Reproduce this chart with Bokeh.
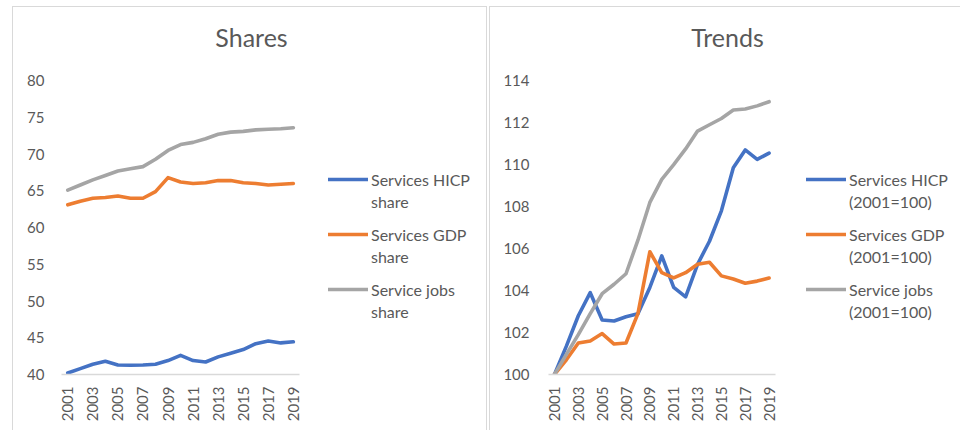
import math
from bokeh.plotting import figure
from bokeh.layouts import row
from bokeh.models import Legend, LegendItem, FixedTicker, Range1d, Label
from bokeh.embed import file_html
from bokeh.resources import INLINE

years = list(range(2001, 2020))

hicp_share = [40.2, 40.8, 41.4, 41.8, 41.3, 41.25, 41.3, 41.4, 41.9, 42.6, 41.9, 41.7,
              42.4, 42.9, 43.4, 44.2, 44.55, 44.3, 44.45]
gdp_share = [63.1, 63.6, 64.0, 64.1, 64.3, 64.0, 64.0, 64.9, 66.8, 66.2, 66.0, 66.1,
             66.4, 66.4, 66.1, 66.0, 65.8, 65.9, 66.0]
jobs_share = [65.1, 65.8, 66.5, 67.1, 67.7, 68.0, 68.3, 69.3, 70.5, 71.3, 71.6, 72.1,
              72.7, 73.0, 73.1, 73.3, 73.4, 73.45, 73.6]

hicp_trend = [100.0, 101.35, 102.8, 103.9, 102.6, 102.55, 102.75, 102.9, 104.15, 105.65,
              104.15, 103.7, 105.25, 106.35, 107.8, 109.85, 110.7, 110.25, 110.55]
gdp_trend = [100.0, 100.7, 101.5, 101.6, 101.95, 101.45, 101.5, 102.9, 105.85, 104.85,
             104.6, 104.85, 105.25, 105.35, 104.7, 104.55, 104.35, 104.45, 104.6]
jobs_trend = [100.0, 100.96, 101.9, 102.9, 103.85, 104.3, 104.8, 106.4, 108.2, 109.3,
              110.0, 110.75, 111.6, 111.9, 112.2, 112.6, 112.65, 112.8, 113.0]

series_names = ["Services HICP", "Services GDP", "Service jobs"]
share_suffix = "share"
trend_suffix = "(2001=100)"
share_ticks = [40, 45, 50, 55, 60, 65, 70, 75, 80]
trend_ticks = [100, 102, 104, 106, 108, 110, 112, 114]
year_ticks = list(range(2001, 2020, 2))

COLORS = ["#4472C4", "#ED7D31", "#A5A5A5"]
TXT = "#595959"
FONT = "Lato"
BORDER = "#d9d9d9"

H = 424          # figure height
BOTTOM = 57      # space under the plot frame
DATA_H = 293     # pixel height of the data area (y0..y1)


def make(title, series, suffix, yticks, width, bl, borders, data_w, legend_x, title_x,
         yl_standoff, css):
    y0, y1 = yticks[0], yticks[-1]
    frame_w = width - borders - bl
    frame_h = H - 1 - BOTTOM
    px_year = data_w / len(years)
    px_unit = DATA_H / (y1 - y0)
    x_lo = years[0] - 0.5
    x_hi = years[-1] + 0.5
    p = figure(width=width, height=H, title=None, toolbar_location=None,
               output_backend="svg",
               x_range=Range1d(x_lo, x_lo + frame_w / px_year),
               y_range=Range1d(y0, y0 + frame_h / px_unit),
               min_border_left=bl, min_border_right=0,
               min_border_top=0, min_border_bottom=BOTTOM)
    p.outline_line_color = None
    p.xgrid.visible = False
    p.ygrid.visible = False
    p.styles = css

    renderers = []
    for vals, c in zip(series, COLORS):
        r = p.line(years, vals, line_width=3.6, line_color=c, line_cap="round",
                   line_join="round")
        renderers.append(r)

    xa = p.xaxis[0]
    xa.ticker = FixedTicker(ticks=year_ticks)
    xa.bounds = (x_lo, x_hi)
    xa.major_label_orientation = math.pi / 2
    xa.major_tick_in = 0
    xa.major_tick_out = 0
    xa.minor_tick_in = 0
    xa.minor_tick_out = 0
    xa.axis_line_color = BORDER
    xa.axis_line_width = 1.5
    xa.major_label_standoff = 12
    xa.major_label_text_font = FONT
    xa.major_label_text_font_size = "15px"
    xa.major_label_text_color = TXT

    ya = p.yaxis[0]
    ya.ticker = FixedTicker(ticks=yticks)
    ya.axis_line_color = None
    ya.major_tick_in = 0
    ya.major_tick_out = 0
    ya.minor_tick_in = 0
    ya.minor_tick_out = 0
    ya.major_label_standoff = yl_standoff
    ya.major_label_text_font = FONT
    ya.major_label_text_font_size = "15px"
    ya.major_label_text_color = TXT

    common = dict(glyph_width=40, glyph_height=22, label_height=22, label_standoff=3,
                  padding=0, margin=0, spacing=33, border_line_alpha=0,
                  background_fill_alpha=0, label_text_font=FONT,
                  label_text_font_size="16px", label_text_color=TXT)
    # first lines of the legend entries, with the line samples
    items = [LegendItem(label=n, renderers=[r]) for n, r in zip(series_names, renderers)]
    p.add_layout(Legend(items=items, location=(legend_x, 74), **common))
    # second lines of the legend entries (no sample)
    blanks = [p.line(x=[], y=[], line_alpha=0) for _ in series_names]
    items2 = [LegendItem(label=suffix, renderers=[b]) for b in blanks]
    p.add_layout(Legend(items=items2, location=(legend_x, 52), **common))

    p.add_layout(Label(x=title_x, y=338, x_units="screen", y_units="screen", text=title,
                       text_align="center", text_baseline="middle", text_font=FONT,
                       text_font_size="25px", text_color=TXT))
    return p


left_css = {"border-top": f"1px solid {BORDER}", "border-left": f"1px solid {BORDER}",
            "border-right": f"1px solid {BORDER}", "box-sizing": "border-box"}
right_css = {"border-top": f"1px solid {BORDER}", "border-left": f"1px solid {BORDER}",
             "box-sizing": "border-box"}

p1 = make("Shares", [hicp_share, gdp_share, jobs_share], share_suffix, share_ticks,
          475, 48, 2, 237, 267, 190, 17, left_css)
p2 = make("Trends", [hicp_trend, gdp_trend, jobs_trend], trend_suffix, trend_ticks,
          471, 58, 1, 226, 258, 179, 19, right_css)
p1.margin = (6, 2, 0, 12)
p2.margin = (6, 0, 0, 0)

layout = row(p1, p2)
open("out.html", "w").write(file_html(layout, INLINE))
